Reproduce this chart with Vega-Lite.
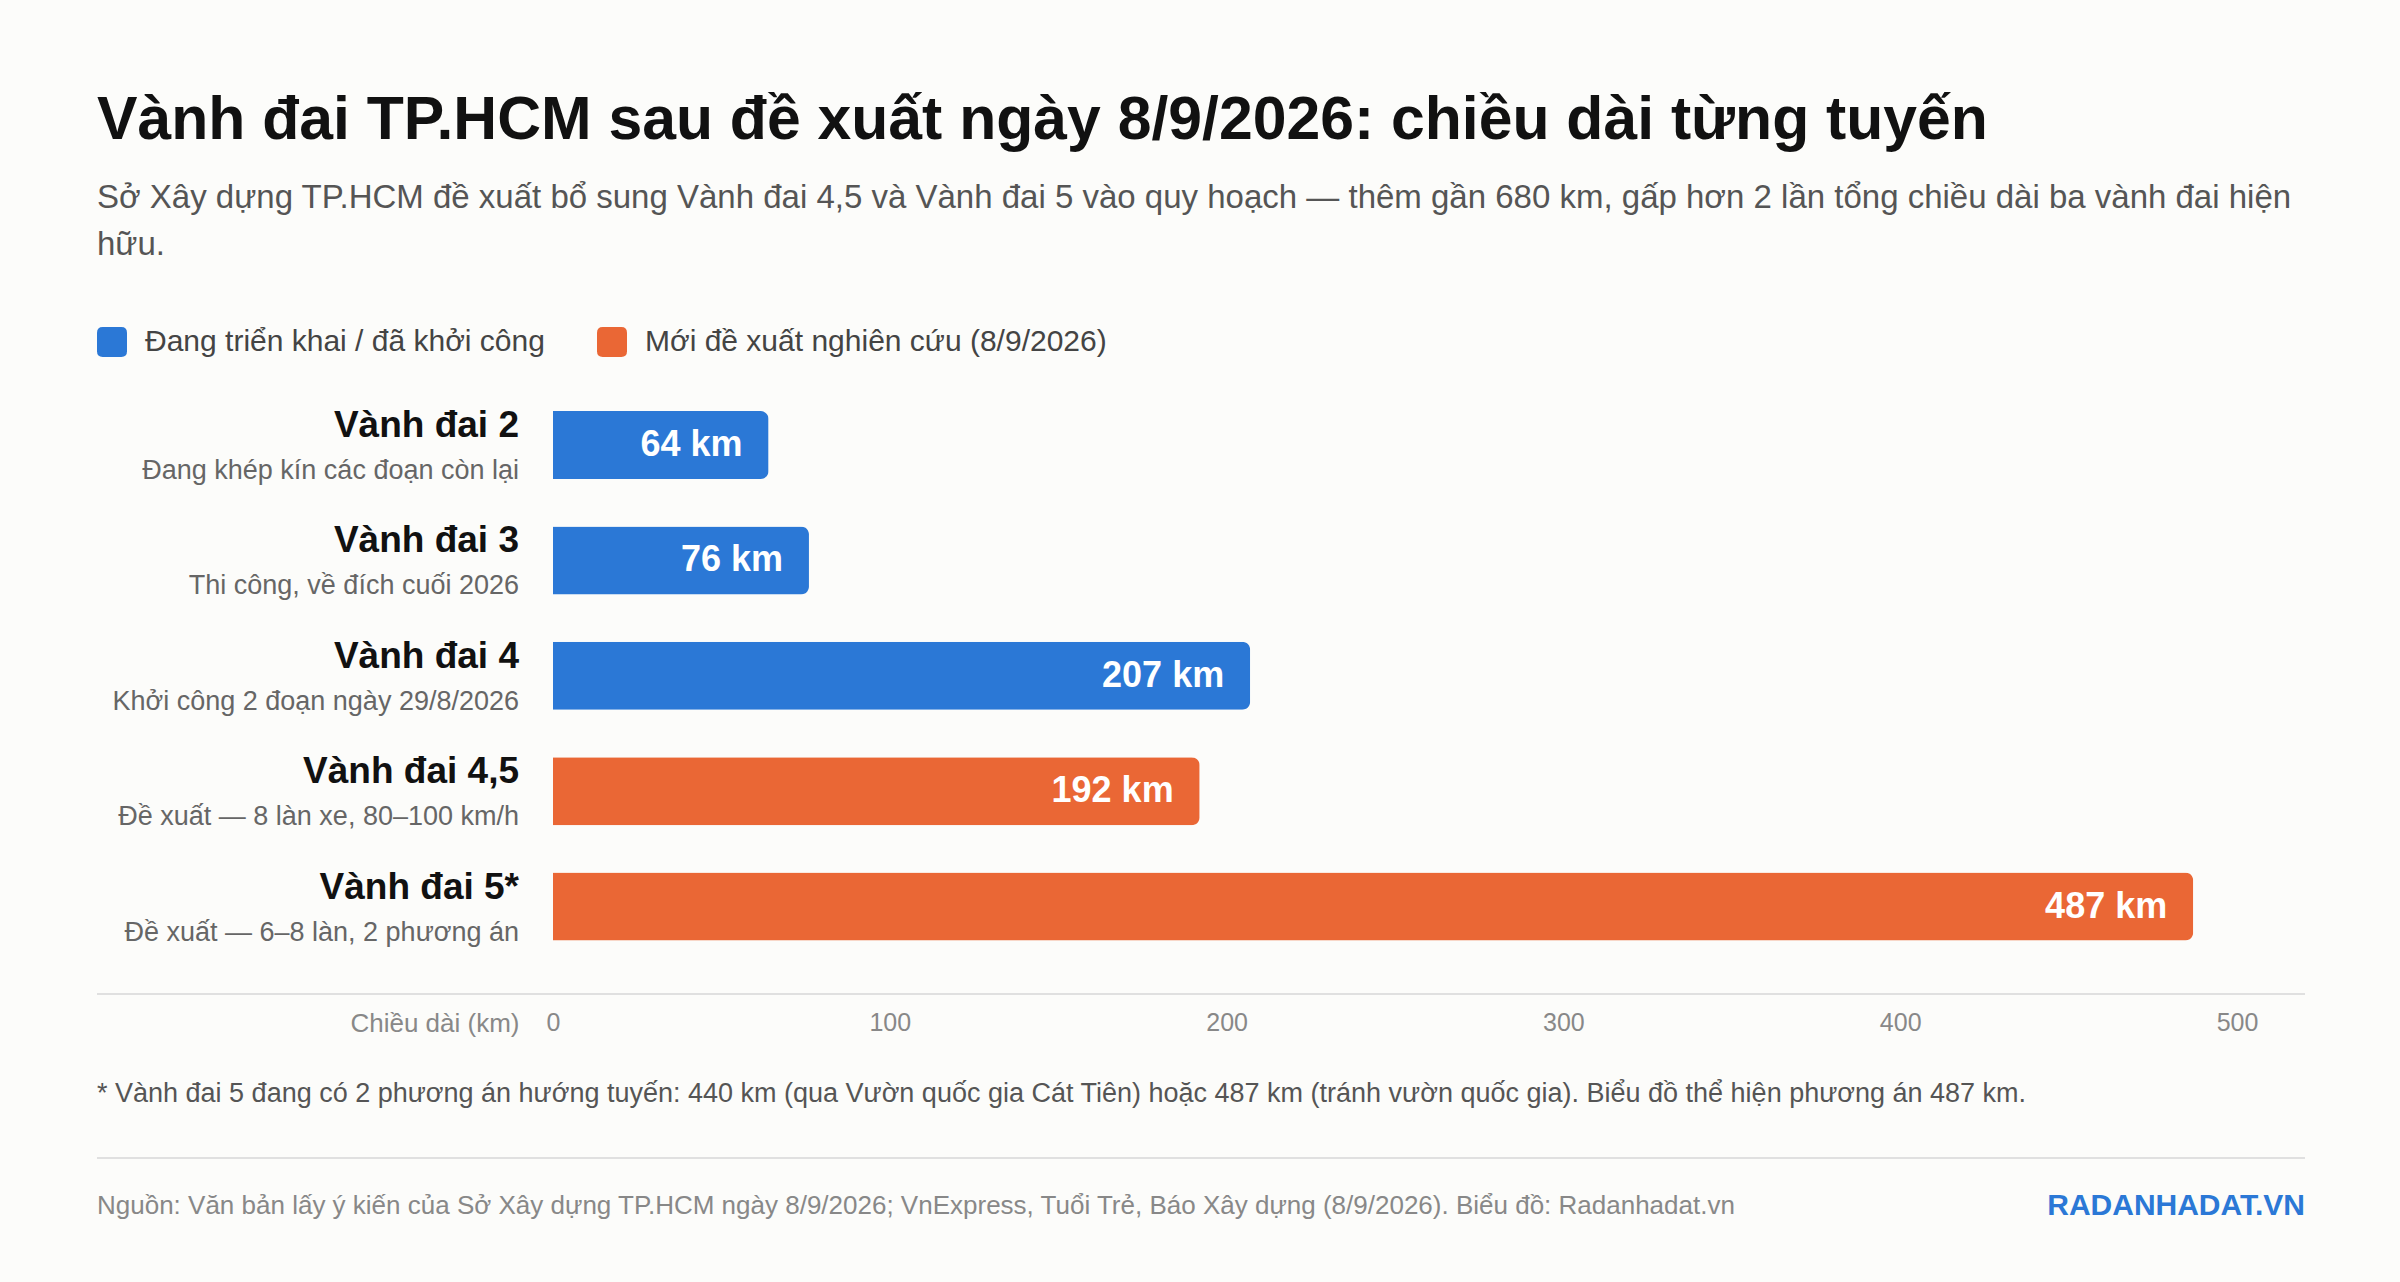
{
  "$schema": "https://vega.github.io/schema/vega-lite/v6.json",
  "background": "#fcfcfa",
  "padding": {"left": 96, "right": 96, "top": 90, "bottom": 48},
  "bounds": "flush",
  "spacing": 0,
  "title": {
    "text": "Vành đai TP.HCM sau đề xuất ngày 8/9/2026: chiều dài từng tuyến",
    "subtitle": [
      "Sở Xây dựng TP.HCM đề xuất bổ sung Vành đai 4,5 và Vành đai 5 vào quy hoạch — thêm gần 680 km, gấp hơn 2 lần tổng chiều dài ba vành đai hiện",
      "hữu."
    ],
    "anchor": "start",
    "frame": "group",
    "font": "Liberation Sans",
    "fontSize": 60.7,
    "fontWeight": "bold",
    "color": "#111111",
    "subtitleFont": "Liberation Sans",
    "subtitleFontSize": 33,
    "subtitleColor": "#555555",
    "subtitleLineHeight": 47,
    "subtitlePadding": 30,
    "offset": 64
  },
  "datasets": {
    "roads": [
      {"name": "Vành đai 2", "note": "Đang khép kín các đoạn còn lại", "km": 64, "label": "64 km", "status": "Đang triển khai / đã khởi công"},
      {"name": "Vành đai 3", "note": "Thi công, về đích cuối 2026", "km": 76, "label": "76 km", "status": "Đang triển khai / đã khởi công"},
      {"name": "Vành đai 4", "note": "Khởi công 2 đoạn ngày 29/8/2026", "km": 207, "label": "207 km", "status": "Đang triển khai / đã khởi công"},
      {"name": "Vành đai 4,5", "note": "Đề xuất — 8 làn xe, 80–100 km/h", "km": 192, "label": "192 km", "status": "Mới đề xuất nghiên cứu (8/9/2026)"},
      {"name": "Vành đai 5*", "note": "Đề xuất — 6–8 làn, 2 phương án", "km": 487, "label": "487 km", "status": "Mới đề xuất nghiên cứu (8/9/2026)"}
    ],
    "footer": [
      {"row": "note", "part": "note", "text": "* Vành đai 5 đang có 2 phương án hướng tuyến: 440 km (qua Vườn quốc gia Cát Tiên) hoặc 487 km (tránh vườn quốc gia). Biểu đồ thể hiện phương án 487 km."},
      {"row": "source", "part": "source", "text": "Nguồn: Văn bản lấy ý kiến của Sở Xây dựng TP.HCM ngày 8/9/2026; VnExpress, Tuổi Trẻ, Báo Xây dựng (8/9/2026). Biểu đồ: Radanhadat.vn"},
      {"row": "source", "part": "brand", "text": "RADANHADAT.VN"}
    ]
  },
  "vconcat": [
    {
      "width": 2208,
      "height": 607,
      "data": {"name": "roads"},
      "encoding": {
        "y": {
          "field": "name",
          "type": "nominal",
          "sort": null,
          "axis": null,
          "scale": {"paddingInner": 0.41, "paddingOuter": 0.3355, "align": 0.31}
        }
      },
      "layer": [
        {
          "mark": {"type": "bar", "cornerRadiusEnd": 8},
          "encoding": {
            "x": {
              "field": "km",
              "type": "quantitative",
              "scale": {"domain": [0, 500], "range": [456, 2140], "nice": false},
              "axis": {
                "values": [0, 100, 200, 300, 400, 500],
                "domain": false,
                "ticks": false,
                "tickSize": 0,
                "grid": false,
                "labelFlush": false,
                "labelFont": "Liberation Sans",
                "labelFontSize": 25,
                "labelColor": "#888888",
                "labelPadding": 16,
                "title": "Chiều dài (km)",
                "titleFont": "Liberation Sans",
                "titleFontSize": 26,
                "titleFontWeight": "normal",
                "titleColor": "#888888",
                "titleAlign": "right",
                "titleBaseline": "top",
                "titleX": 422,
                "titleY": 16
              }
            },
            "color": {
              "field": "status",
              "type": "nominal",
              "scale": {
                "domain": ["Đang triển khai / đã khởi công", "Mới đề xuất nghiên cứu (8/9/2026)"],
                "range": ["#2b78d6", "#ea6735"]
              },
              "legend": {
                "title": null,
                "orient": "top",
                "direction": "horizontal",
                "symbolType": "M-0.62,-1H0.62Q1,-1,1,-0.62V0.62Q1,1,0.62,1H-0.62Q-1,1,-1,0.62V-0.62Q-1,-1,-0.62,-1Z",
                "symbolSize": 900,
                "symbolStrokeWidth": 0,
                "symbolOpacity": 1,
                "labelFont": "Liberation Sans",
                "labelFontSize": 30,
                "labelColor": "#444444",
                "labelOffset": 18,
                "labelLimit": 800,
                "columnPadding": 52,
                "offset": 30,
                "padding": 0
              }
            }
          }
        },
        {
          "mark": {"type": "text", "align": "right", "baseline": "middle", "dx": -26, "font": "Liberation Sans", "fontSize": 36, "fontWeight": "bold", "color": "#ffffff"},
          "encoding": {
            "x": {"field": "km", "type": "quantitative"},
            "text": {"field": "label"}
          }
        },
        {
          "mark": {"type": "text", "align": "right", "baseline": "alphabetic", "dx": -34, "dy": -8, "font": "Liberation Sans", "fontSize": 37, "fontWeight": "bold", "color": "#111111"},
          "encoding": {
            "x": {"datum": 0, "type": "quantitative"},
            "text": {"field": "name"}
          }
        },
        {
          "mark": {"type": "text", "align": "right", "baseline": "alphabetic", "dx": -34, "dy": 34, "font": "Liberation Sans", "fontSize": 27, "color": "#666666"},
          "encoding": {
            "x": {"datum": 0, "type": "quantitative"},
            "text": {"field": "note"}
          }
        },
        {
          "data": {"values": [{"line": "axis"}]},
          "mark": {"type": "rule", "color": "#e0e0e0", "strokeWidth": 2},
          "encoding": {"y": {"value": "height"}}
        }
      ]
    },
    {
      "width": 2208,
      "height": 240,
      "data": {"name": "footer"},
      "encoding": {
        "y": {
          "field": "row",
          "type": "nominal",
          "axis": null,
          "scale": {"type": "point", "domain": ["note", "rule", "source"], "range": [100, 212], "padding": 0}
        }
      },
      "layer": [
        {
          "transform": [{"filter": "datum.part == 'note'"}],
          "mark": {"type": "text", "align": "left", "baseline": "middle", "x": 0, "font": "Liberation Sans", "fontSize": 27, "color": "#555555"},
          "encoding": {"text": {"field": "text"}}
        },
        {
          "data": {"values": [{"row": "rule"}]},
          "mark": {"type": "rule", "color": "#e0e0e0", "strokeWidth": 2},
          "encoding": {"y": {"field": "row", "type": "nominal"}, "yOffset": {"value": 8}}
        },
        {
          "transform": [{"filter": "datum.part == 'source'"}],
          "mark": {"type": "text", "align": "left", "baseline": "middle", "x": 0, "font": "Liberation Sans", "fontSize": 26, "color": "#888888"},
          "encoding": {"text": {"field": "text"}}
        },
        {
          "transform": [{"filter": "datum.part == 'brand'"}],
          "mark": {"type": "text", "align": "right", "baseline": "middle", "x": "width", "font": "Liberation Sans", "fontSize": 30, "fontWeight": "bold", "color": "#2b78d6"},
          "encoding": {"text": {"field": "text"}}
        }
      ]
    }
  ],
  "config": {
    "view": {"stroke": null},
    "font": "Liberation Sans"
  }
}
